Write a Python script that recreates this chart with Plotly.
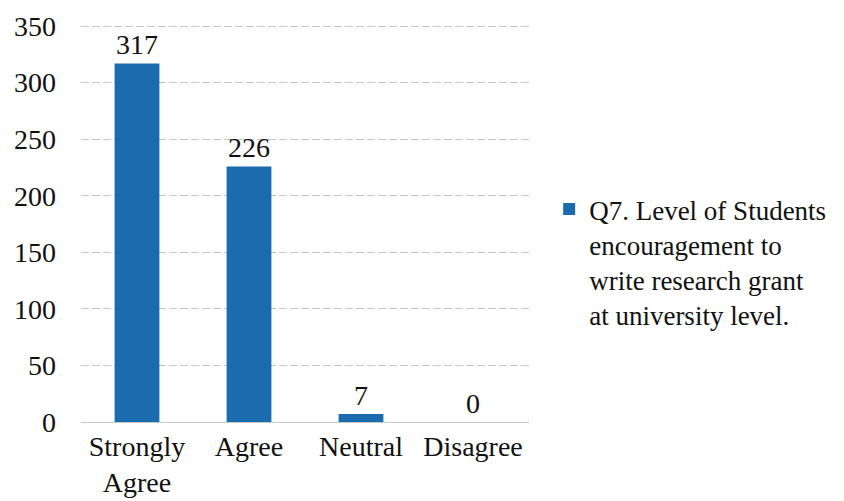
import plotly.graph_objects as go

categories = ["Strongly<br>Agree", "Agree", "Neutral", "Disagree"]
counts = [317, 226, 7, 0]
series_name = "Q7. Level of Students<br>encouragement to<br>write research grant<br>at university level."
y_ticks = [0, 50, 100, 150, 200, 250, 300, 350]

FONT = "Liberation Serif, Times New Roman, serif"
BAR_COLOR = "#1b6cae"
TEXT_COLOR = "#111111"

fig = go.Figure(go.Bar(
    x=categories,
    y=counts,
    name=series_name,
    marker=dict(color=BAR_COLOR, line=dict(width=0)),
    width=0.4,
    text=[str(v) for v in counts],
    textposition="outside",
    textfont=dict(family=FONT, size=28, color=TEXT_COLOR),
    cliponaxis=False,
    showlegend=True,
))

# the page body adds an 8px offset, so margins are shifted to compensate
fig.update_layout(
    width=844,
    height=501,
    plot_bgcolor="white",
    paper_bgcolor="white",
    font=dict(family=FONT, size=28, color=TEXT_COLOR),
    margin=dict(l=73, r=323, t=17, b=87, autoexpand=False),
    showlegend=True,
    legend=dict(
        x=1.045, xanchor="left",
        y=0.403, yanchor="middle",
        valign="top",
        font=dict(family=FONT, size=27, color=TEXT_COLOR),
        itemwidth=30,
        tracegroupgap=0,
    ),
)

fig.update_yaxes(
    range=[0, 351],
    tickvals=y_ticks,
    showgrid=True,
    gridcolor="#c8c8c8",
    griddash="8px,3px",
    gridwidth=1,
    zeroline=True,
    zerolinecolor="#c8c8c8",
    zerolinewidth=1,
    showline=False,
    ticks="",
    ticklabelstandoff=24,
    automargin=False,
)

fig.update_xaxes(
    showline=False,
    showgrid=False,
    ticks="",
    tickangle=0,
    ticklabelstandoff=5,
    automargin=False,
)

fig.write_html("out.html")
